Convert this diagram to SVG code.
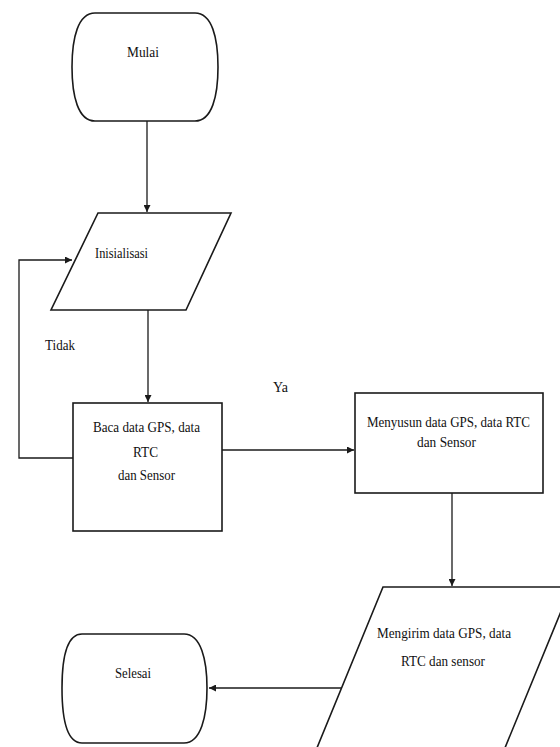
<svg xmlns="http://www.w3.org/2000/svg" width="560" height="747" viewBox="0 0 560 747">
<style>
.shape{fill:#fff;stroke:#1a1a1a;stroke-width:1.6}
.conn{fill:none;stroke:#1a1a1a;stroke-width:1.3}
text{font-family:'Liberation Serif','DejaVu Serif',serif;font-size:15px;fill:#111}
</style>
<defs>
<marker id="arr" viewBox="0 0 10 10" refX="10" refY="5" markerWidth="7" markerHeight="7" orient="auto" markerUnits="userSpaceOnUse">
<path d="M0,0 L10,5 L0,10 z" fill="#1a1a1a"/>
</marker>
</defs>
<rect width="560" height="747" fill="#fff"/>
<g id="connectors">
<path class="conn" d="M147,121 L147,212" marker-end="url(#arr)"/>
<path class="conn" d="M148,310 L148,402" marker-end="url(#arr)"/>
<path class="conn" d="M73,458 L19,458 L19,260 L72,260" marker-end="url(#arr)"/>
<path class="conn" d="M222,450 L354,450" marker-end="url(#arr)"/>
<path class="conn" d="M452,493 L452,586" marker-end="url(#arr)"/>
<path class="conn" d="M342,688 L209,688" marker-end="url(#arr)"/>
</g>
<g id="mulai">
<path class="shape" d="M95,13 L195,13 C212,13 218,38 218,67 C218,96 212,121 195,121 L95,121 C78,121 72,96 72,67 C72,38 78,13 95,13 Z"/>
<text x="127" y="57" textLength="32" lengthAdjust="spacingAndGlyphs" font-family="Liberation Serif, serif">Mulai</text>
</g>
<g id="inisialisasi">
<polygon class="shape" points="98,213 231,213 186,310 51,310"/>
<text x="95" y="258" textLength="53" lengthAdjust="spacingAndGlyphs" font-family="Liberation Serif, serif">Inisialisasi</text>
</g>
<g id="baca">
<rect class="shape" x="73" y="403" width="149" height="128"/>
<text x="93" y="432" textLength="107" lengthAdjust="spacingAndGlyphs" font-family="Liberation Serif, serif">Baca data GPS, data</text>
<text x="133" y="457" textLength="25" lengthAdjust="spacingAndGlyphs" font-family="Liberation Serif, serif">RTC</text>
<text x="118" y="480" textLength="57" lengthAdjust="spacingAndGlyphs" font-family="Liberation Serif, serif">dan Sensor</text>
</g>
<g id="menyusun">
<rect class="shape" x="355" y="393" width="188" height="100"/>
<text x="367" y="427" textLength="163" lengthAdjust="spacingAndGlyphs" font-family="Liberation Serif, serif">Menyusun data GPS, data RTC</text>
<text x="417" y="447" textLength="59" lengthAdjust="spacingAndGlyphs" font-family="Liberation Serif, serif">dan Sensor</text>
</g>
<g id="mengirim">
<polygon class="shape" points="383,587 571,587 500,760 312,760"/>
<text x="377" y="638" textLength="134" lengthAdjust="spacingAndGlyphs" font-family="Liberation Serif, serif">Mengirim data GPS, data</text>
<text x="401" y="666" textLength="84" lengthAdjust="spacingAndGlyphs" font-family="Liberation Serif, serif">RTC dan sensor</text>
</g>
<g id="selesai">
<path class="shape" d="M82,634 L184,634 C201,634 207,660 207,688 C207,716 201,743 184,743 L82,743 C66,743 62,716 62,688 C62,660 66,634 82,634 Z"/>
<text x="115" y="678" textLength="36" lengthAdjust="spacingAndGlyphs" font-family="Liberation Serif, serif">Selesai</text>
</g>
<g id="labels">
<text x="45" y="350" textLength="30" lengthAdjust="spacingAndGlyphs" font-family="Liberation Serif, serif">Tidak</text>
<text x="273" y="392" textLength="15" lengthAdjust="spacingAndGlyphs" font-family="Liberation Serif, serif">Ya</text>
</g>
</svg>
